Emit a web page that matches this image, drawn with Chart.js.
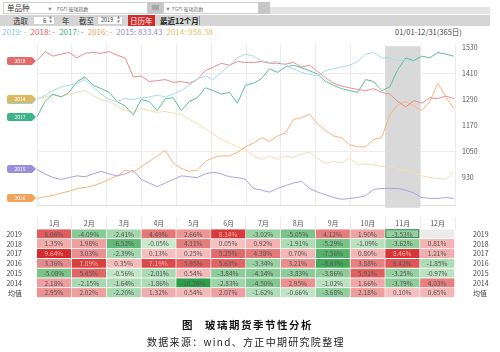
<!DOCTYPE html>
<html lang="zh">
<head>
<meta charset="UTF-8">
<title>玻璃期货季节性分析</title>
<script src="https://cdn.jsdelivr.net/npm/chart.js"></script>
<style>
  body { margin: 0; background: #fff; font-family: 'Noto Sans CJK SC', sans-serif; }
  #wrap { position: relative; width: 500px; height: 352px; overflow: hidden; }
  #wrap > div, #wrap > span { position: absolute; }
  .t { line-height: 1; white-space: nowrap; color: #333; }
  .inp { background: #fff; border: 1px solid #cfcfcf; box-sizing: border-box; }
  .btn { background: #c6c6c6; }
  #legend span { margin-right: 4px; }
  canvas { position: absolute; left: 0; }
</style>
</head>
<body>
<div id="wrap">
  <!-- toolbar row 1 -->
  <div style="left:258px;top:7px;width:232px;height:7px;background:#e4e4e4"></div>
  <div class="inp" style="left:3px;top:2px;width:145px;height:12px"></div>
  <span class="t" style="left:7px;top:4px;font-size:7.5px">单品种</span>
  <span class="t" style="left:48px;top:6.5px;font-size:4px;color:#999">▼</span>
  <span class="t" style="left:57px;top:5.5px;font-size:5px;color:#666">FGFI 玻璃指数</span>
  <div class="btn" style="left:148px;top:2px;width:15px;height:12px"></div>
  <div style="left:152px;top:5px;width:7px;height:5px;background:#a8a8a8"></div>
  <div class="inp" style="left:163px;top:2px;width:96px;height:12px"></div>
  <span class="t" style="left:166px;top:6.5px;font-size:4px;color:#999">▼</span>
  <span class="t" style="left:172px;top:5.5px;font-size:5px;color:#777">FGFI 玻璃指数</span>
  <div class="btn" style="left:259px;top:2px;width:11px;height:12px"></div>

  <!-- toolbar row 2 -->
  <div style="left:0;top:15px;width:490px;height:11px;background:#d5d5d5"></div>
  <span class="t" style="left:13px;top:17px;font-size:7.5px">选取</span>
  <div class="inp" style="left:33px;top:16px;width:22px;height:9px"></div>
  <span class="t" style="left:43px;top:17.5px;font-size:6px">6</span>
  <span class="t" style="left:49px;top:17px;font-size:3px;color:#777">▲</span>
  <span class="t" style="left:49px;top:21px;font-size:3px;color:#777">▼</span>
  <span class="t" style="left:62px;top:17px;font-size:7.5px">年</span>
  <span class="t" style="left:79px;top:17px;font-size:7.5px">截至</span>
  <div class="inp" style="left:97px;top:16px;width:26px;height:9px"></div>
  <span class="t" style="left:101px;top:18px;font-size:5.5px">2019</span>
  <span class="t" style="left:117px;top:17px;font-size:3px;color:#777">▲</span>
  <span class="t" style="left:117px;top:21px;font-size:3px;color:#777">▼</span>
  <div style="left:128px;top:15px;width:27px;height:11px;background:#d12a2a"></div>
  <span class="t" style="left:130px;top:17px;font-size:7.5px;color:#fff">日历年</span>
  <span class="t" style="left:160px;top:17px;font-size:7.5px;font-weight:bold;color:#222">最近12个月</span>
  <div style="left:199px;top:16px;width:1px;height:9px;background:#999"></div>

  <!-- legend row -->
  <div id="legend" class="t" style="left:2px;top:28px;font-size:8px"></div>
  <span class="t" style="left:395px;top:28px;font-size:7.5px;color:#444">01/01-12/31(365日)</span>

  <canvas id="lineChart" width="500" height="184" style="top:33px"></canvas>
  <canvas id="tableChart" width="500" height="97" style="top:215px"></canvas>

  <span class="t" style="left:182px;top:320px;font-size:10.5px;font-weight:bold;color:#111">图</span>
  <span class="t" style="left:205px;top:320px;font-size:10.5px;font-weight:bold;color:#111;letter-spacing:1.5px">玻璃期货季节性分析</span>
  <span class="t" style="left:147px;top:337px;font-size:10px;color:#222;letter-spacing:1.3px">数据来源：wind、方正中期研究院整理</span>
</div>

<script>
    // weekly sample points, day of year
    const days = [0,7,14,21,28,35,42,49,56,63,70,77,84,91,98,105,112,119,126,133,140,147,154,161,168,175,182,189,196,203,210,217,224,231,238,245,252,259,266,273,280,287,294,301,308,315,322,329,336,343,350,357,364];

    const years = ['2019', '2018', '2017', '2016', '2015', '2014'];
    const legendValues = ['-', '-', '-', '-', '833.43', '958.38'];

    const price2019 = [1288,1308,1329,1346,1354,1363,1380,1346,1313,1288,1279,1292,1288,1296,1300,1308,1300,1313,1329,1354,1384,1396,1380,1413,1446,1480,1497,1488,1467,1459,1463,1446,1430,1413,1405,1396,1421,1430,1438,1446,1463,1497,1505,1480,1480,1467,1471,1463];
    const price2018 = [1467,1509,1488,1497,1505,1480,1501,1505,1501,1509,1492,1480,1392,1396,1371,1375,1380,1367,1371,1363,1380,1421,1438,1455,1446,1463,1459,1459,1463,1455,1455,1451,1459,1438,1446,1417,1388,1363,1350,1342,1334,1329,1338,1321,1313,1279,1254,1283,1271,1296,1292,1304,1292];
    const price2017 = [1208,1279,1313,1300,1321,1371,1392,1354,1338,1321,1279,1258,1217,1288,1279,1237,1292,1296,1237,1279,1296,1342,1329,1313,1321,1271,1354,1363,1384,1430,1413,1438,1446,1434,1421,1405,1371,1354,1338,1329,1321,1380,1371,1329,1346,1425,1480,1467,1488,1480,1505,1497,1488];
    const price2016 = [832,840,845,857,865,878,882,891,903,920,936,962,953,978,1003,1028,1054,995,970,957,962,1003,1020,1028,1028,1045,1070,1087,1112,1095,1120,1133,1196,1204,1221,1175,1145,1120,1112,1079,1070,1070,1104,1112,1217,1263,1279,1258,1237,1279,1363,1300,1246];
    const price2015 = [966,945,928,920,928,936,932,945,957,945,936,945,962,920,903,886,903,920,936,932,928,945,953,945,932,928,920,878,870,861,878,891,903,911,878,861,849,836,828,832,836,845,874,878,878,878,870,857,836,832,832,836,832];
    const price2014 = [1292,1300,1308,1300,1313,1321,1329,1304,1288,1279,1258,1237,1229,1246,1237,1229,1233,1225,1221,1196,1179,1154,1129,1104,1087,1070,1058,1028,1012,1028,1012,1028,1020,1037,1045,1016,995,1003,995,1020,987,991,987,978,982,970,962,953,936,928,924,920,957];

    const yTicks = [930, 1050, 1170, 1290, 1410, 1530];

    const months = ['1月','2月','3月','4月','5月','6月','7月','8月','9月','10月','11月','12月'];
    const rowNames = ['2019', '2018', '2017', '2016', '2015', '2014', '均值'];

    // monthly change, %
    const chg2019 = [6.06, -4.09, -2.41, 4.49, 2.66, 8.14, -3.02, -5.05, 4.12, 1.90, -3.53, null];
    const chg2018 = [1.35, 1.98, -6.52, -0.05, 4.11, 0.05, 0.92, -1.91, -5.29, -1.09, -3.62, 0.81];
    const chg2017 = [9.64, 3.03, -2.39, 0.13, 0.25, 5.25, 4.38, 0.70, -7.56, 0.80, 8.46, 1.21];
    const chg2016 = [3.36, 7.89, 0.35, 7.19, 5.95, 5.63, -3.34, 3.21, -8.67, 3.88, 6.42, -1.85];
    const chg2015 = [-5.08, 5.45, -0.56, -2.01, 0.54, -3.84, -4.14, -3.83, -3.86, 5.91, -3.25, -0.97];
    const chg2014 = [2.18, -2.15, -1.64, -1.86, -10.26, -2.83, -4.50, 2.95, -1.02, 1.66, -3.79, 4.03];
    const chgMean = [2.95, 2.02, -2.20, 1.32, 0.54, 2.07, -1.62, -0.66, -3.68, 2.18, 0.10, 0.65];

    const currentMonth = 10; // 11月, shaded

    const prices = [price2019, price2018, price2017, price2016, price2015, price2014];
    const tableRows = [chg2019, chg2018, chg2017, chg2016, chg2015, chg2014, chgMean];

    const lineColors = ['#a6dbe7', '#e88d8d', '#5cbf97', '#f6b47c', '#aaa1e0', '#f2ddae'];
    const tagColors = ['#8fd0e0', '#e26a6a', '#3db388', '#f4a25a', '#9b8fdc', '#dcba62'];
    const legendColors = ['#86cbdc', '#e06464', '#3cb287', '#f2a05a', '#988cd8', '#e3c26c'];

    Chart.defaults.font.family = "'Noto Sans CJK SC', sans-serif";

    // legend row
    let legendHtml = '';
    years.forEach((y, i) => {
        legendHtml += '<span style="color:' + legendColors[i] + '">' + y + ': ' + legendValues[i] + '</span>';
    });
    document.getElementById('legend').innerHTML = legendHtml;

    // month boundaries on the day axis (equal widths, like the table columns)
    const monthEdges = [];
    for (let k = 0; k <= 12; k++) monthEdges.push(k * 365 / 12);

    const bandPlugin = {
        id: 'band',
        beforeDatasetsDraw(chart) {
            const {ctx, chartArea, scales: {x}} = chart;
            const x0 = x.getPixelForValue(monthEdges[currentMonth]);
            const x1 = x.getPixelForValue(monthEdges[currentMonth + 1]);
            ctx.save();
            ctx.fillStyle = '#d9d9d9';
            ctx.fillRect(x0, chartArea.top + 2, x1 - x0, chartArea.bottom - chartArea.top);
            ctx.restore();
        }
    };

    const tagPlugin = {
        id: 'tags',
        afterDatasetsDraw(chart) {
            const {ctx, scales: {y}} = chart;
            ctx.save();
            chart.data.datasets.forEach((ds, i) => {
                const cy = Math.round(y.getPixelForValue(ds.data[0].y));
                ctx.fillStyle = tagColors[i];
                ctx.beginPath();
                ctx.moveTo(9, cy - 4);
                ctx.lineTo(32, cy - 4);
                ctx.lineTo(36, cy);
                ctx.lineTo(32, cy + 4);
                ctx.lineTo(9, cy + 4);
                ctx.quadraticCurveTo(7, cy + 4, 7, cy + 2);
                ctx.lineTo(7, cy - 2);
                ctx.quadraticCurveTo(7, cy - 4, 9, cy - 4);
                ctx.fill();
                ctx.fillStyle = '#fff';
                ctx.font = "5px 'Noto Sans CJK SC', sans-serif";
                ctx.textAlign = 'center';
                ctx.textBaseline = 'middle';
                ctx.fillText(ds.label, 20, cy + 0.5);
            });
            ctx.restore();
        }
    };

    new Chart(document.getElementById('lineChart'), {
        type: 'line',
        data: {
            datasets: years.map((y, i) => ({
                label: y,
                data: prices[i].map((v, k) => ({x: days[k], y: v})),
                borderColor: lineColors[i],
                borderWidth: 1,
                pointRadius: 0,
                tension: 0
            }))
        },
        options: {
            responsive: false,
            animation: false,
            layout: { padding: { left: 37, top: 4, bottom: 2, right: 0 } },
            plugins: { legend: { display: false }, tooltip: { enabled: false } },
            scales: {
                x: {
                    type: 'linear', min: 0, max: 365,
                    afterBuildTicks: s => { s.ticks = monthEdges.map(v => ({value: v})); },
                    ticks: { display: false },
                    grid: { color: '#ebebeb', drawTicks: false },
                    border: { display: true, color: '#dedede' },
                    afterFit: s => { s.height = 0; }
                },
                y: {
                    position: 'right', min: 798, max: 1543,
                    afterBuildTicks: s => { s.ticks = yTicks.map(v => ({value: v})); },
                    ticks: { font: { size: 7 }, color: '#555', padding: 7, callback: v => String(v) },
                    grid: {
                        drawTicks: false,
                        color: c => (c.tick && (c.tick.value === 1410 || c.tick.value === 1050)) ? '#ececec' : 'rgba(0,0,0,0)'
                    },
                    border: { display: false },
                    afterFit: s => { s.width = 45; }
                }
            }
        },
        plugins: [bandPlugin, tagPlugin]
    });

    // heatmap colours
    function cellColor(v) {
        if (v === null) return '#ececec';
        if (v >= 0) {
            const t = Math.min(v / 9, 1);
            return 'rgb(' + Math.round(246 - 34 * t) + ',' + Math.round(194 - 150 * t) + ',' + Math.round(194 - 150 * t) + ')';
        }
        const t = Math.min(-v / 10, 1);
        return 'rgb(' + Math.round(202 - 158 * t) + ',' + Math.round(233 - 73 * t) + ',' + Math.round(206 - 134 * t) + ')';
    }
    function cellTextColor(v) {
        return v >= 7 ? '#f3b0b0' : '#555';
    }

    const cellTextPlugin = {
        id: 'cellText',
        afterDatasetsDraw(chart) {
            const ctx = chart.ctx;
            ctx.save();
            ctx.font = "6.5px 'Noto Sans CJK SC', sans-serif";
            ctx.textAlign = 'center';
            ctx.textBaseline = 'middle';
            chart.data.datasets.forEach((ds, r) => {
                chart.getDatasetMeta(r).data.forEach((el, j) => {
                    const v = tableRows[r][j];
                    if (v === null) return;
                    const {x, y, base, width} = el.getProps(['x', 'y', 'base', 'width'], true);
                    ctx.fillStyle = cellTextColor(v);
                    ctx.fillText(v.toFixed(2) + '%', x - 0.5, (y + base) / 2);
                    if (r === 0 && j === currentMonth) {
                        ctx.strokeStyle = '#3f8a55';
                        ctx.lineWidth = 1;
                        ctx.strokeRect(x - width / 2 + 0.5, Math.min(y, base) + 0.5, width - 2, Math.abs(base - y) - 2);
                    }
                });
            });
            ctx.restore();
        }
    };

    const rowAxis = (pos, pad, w) => ({
        type: 'linear', position: pos, min: 0, max: 7, reverse: true,
        afterBuildTicks: s => { s.ticks = rowNames.map((n, r) => ({value: r + 0.5})); },
        ticks: { callback: (v, idx) => rowNames[idx], font: { size: 7 }, color: '#444', padding: pad },
        grid: { display: false },
        border: { display: false },
        afterFit: s => { s.width = w; }
    });

    new Chart(document.getElementById('tableChart'), {
        type: 'bar',
        data: {
            labels: months,
            datasets: rowNames.map((name, r) => ({
                label: name,
                data: tableRows[r].map(() => [r, r + 1]),
                backgroundColor: tableRows[r].map(cellColor),
                borderColor: '#ffffff',
                borderWidth: { top: 0, left: 0, right: 1, bottom: 1 },
                borderSkipped: false,
                grouped: false,
                barPercentage: 1,
                categoryPercentage: 1
            }))
        },
        options: {
            responsive: false,
            animation: false,
            layout: { padding: { bottom: 1 } },
            plugins: { legend: { display: false }, tooltip: { enabled: false } },
            scales: {
                x: {
                    position: 'top',
                    grid: { offset: true, drawOnChartArea: false, tickLength: 12, color: '#ebebeb' },
                    border: { display: false },
                    ticks: { font: { size: 7 }, color: '#555', padding: -10, maxRotation: 0, autoSkip: false },
                    afterFit: s => { s.height = 12; }
                },
                y: rowAxis('left', 7, 37),
                y2: rowAxis('right', 10, 45)
            }
        },
        plugins: [cellTextPlugin]
    });
</script>
</body>
</html>
